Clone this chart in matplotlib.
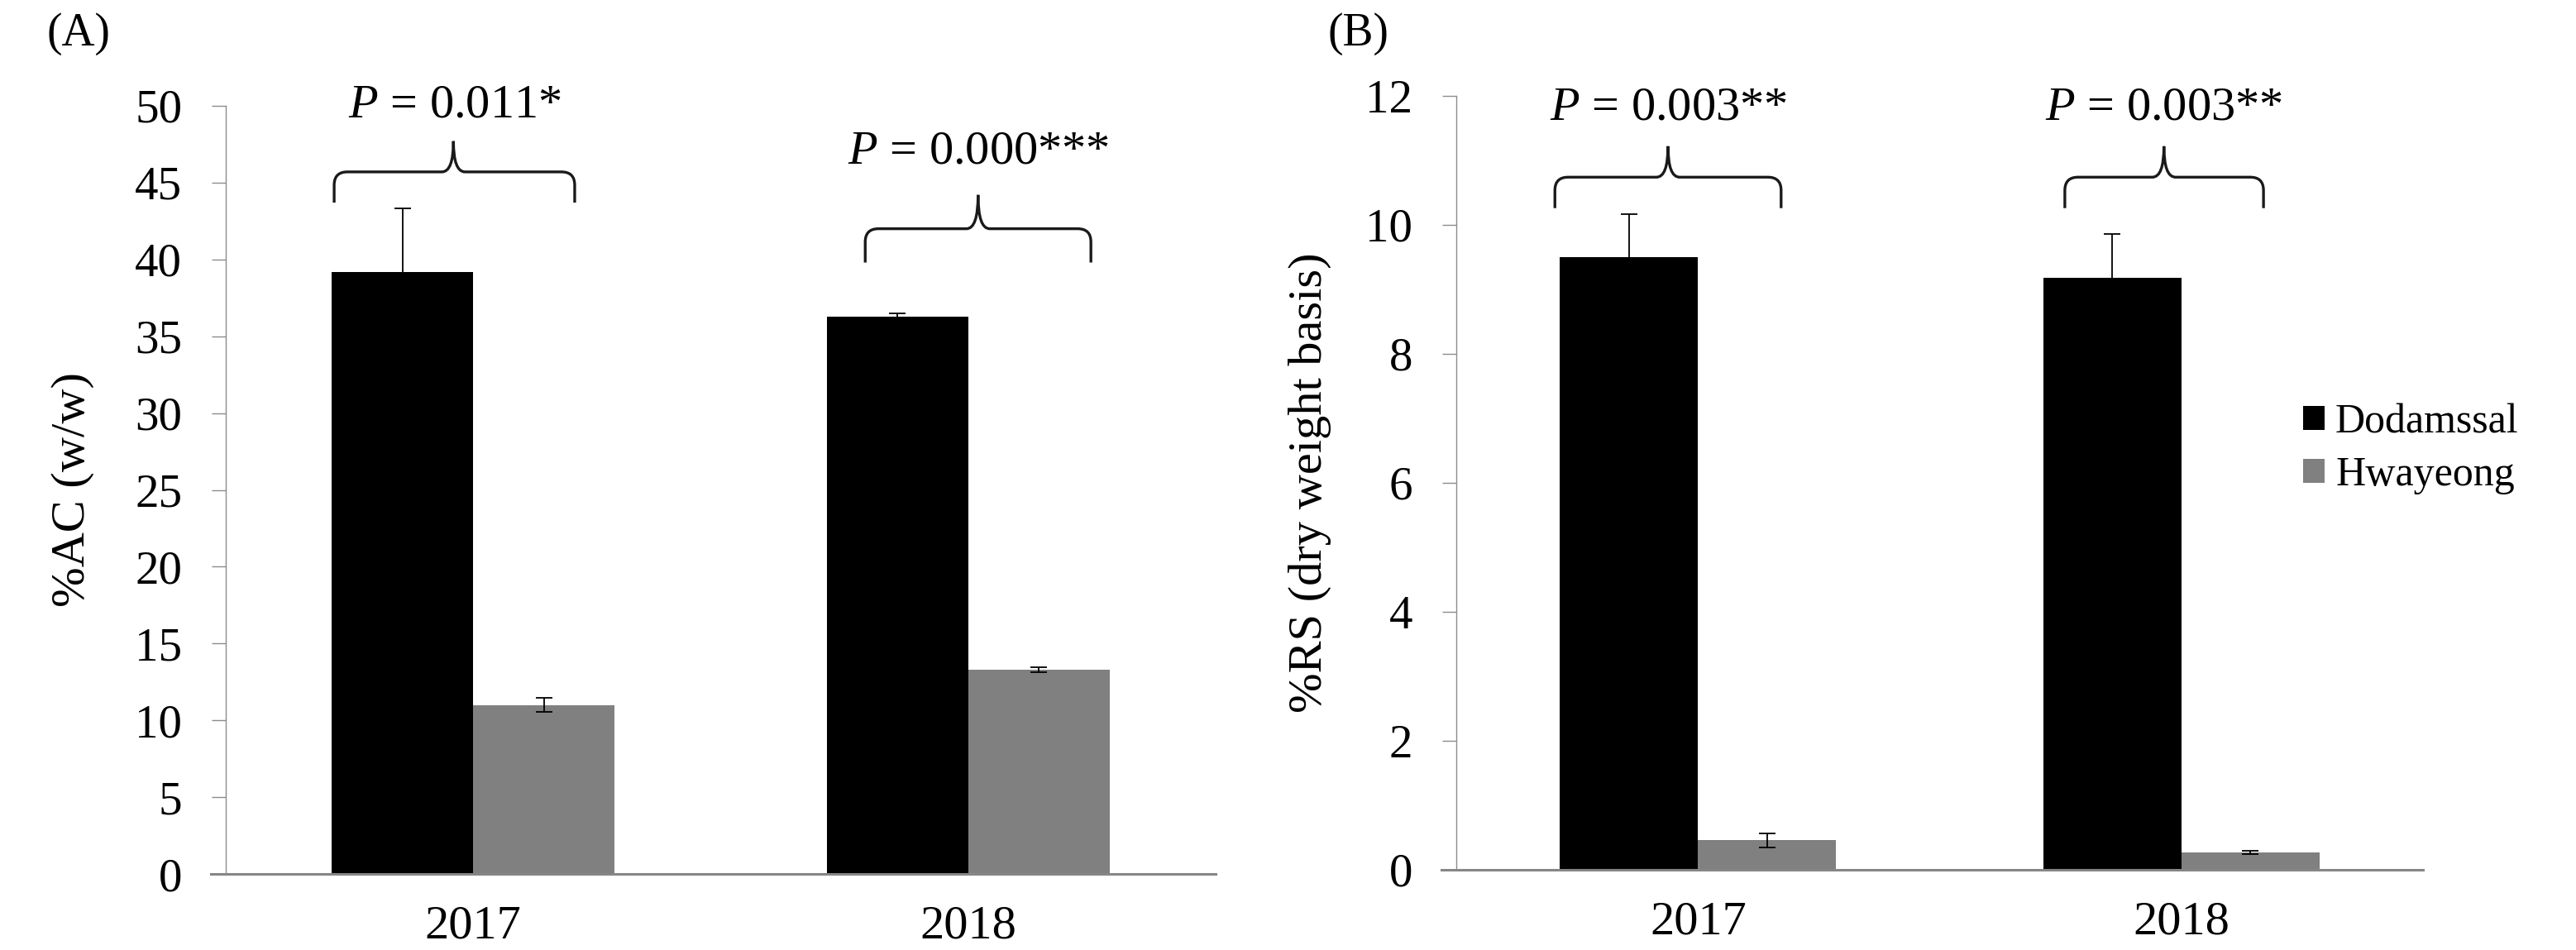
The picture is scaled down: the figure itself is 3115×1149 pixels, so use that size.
import numpy as np
import matplotlib
matplotlib.use('Agg')
import matplotlib.pyplot as plt
from matplotlib.path import Path
from matplotlib.patches import PathPatch
from matplotlib.transforms import IdentityTransform

plt.rcParams['font.family'] = ['Liberation Serif', 'DejaVu Serif']
plt.rcParams['mathtext.fontset'] = 'custom'
plt.rcParams['mathtext.rm'] = 'Liberation Serif'
plt.rcParams['mathtext.it'] = 'Liberation Serif:italic'

# data
years = ['2017', '2018']
cultivars = ['Dodamssal', 'Hwayeong']
colors = ['#000000', '#808080']

ac_mean = {'Dodamssal': [39.2, 36.3], 'Hwayeong': [11.0, 13.3]}
ac_err = {'Dodamssal': [4.1, 0.2], 'Hwayeong': [0.45, 0.15]}
rs_mean = {'Dodamssal': [9.5, 9.18], 'Hwayeong': [0.46, 0.27]}
rs_err = {'Dodamssal': [0.67, 0.68], 'Hwayeong': [0.11, 0.02]}

ac_pvals = ['0.011*', '0.000***']
rs_pvals = ['0.003**', '0.003**']

# brace annotations: (x_left, x_right, x_tip, y_end, y_line, y_tip, y_text)
ac_braces = [(-0.281, 0.205, -0.04, 43.7, 45.7, 47.7, 50.0),
             (0.792, 1.248, 1.02, 39.8, 42.0, 44.2, 47.0)]
rs_braces = [(-0.296, 0.172, -0.062, 10.26, 10.74, 11.22, 11.81),
             (0.759, 1.170, 0.964, 10.26, 10.74, 11.22, 11.81)]

W, H, DPI = 31.15, 11.49, 100
fig = plt.figure(figsize=(W, H), dpi=DPI)

axA = fig.add_axes([273 / 3115, 1 - 1057 / 1149, 1197 / 3115, 929 / 1149])
axB = fig.add_axes([1761 / 3115, 1 - 1052 / 1149, 1169 / 3115, 936 / 1149])

bw = 1 / 3.5
x = np.arange(len(years))


def style_axis(ax, ylim, yticks, ylabel, labx):
    ax.set_xlim(-0.5, 1.5)
    ax.set_ylim(*ylim)
    ax.set_yticks(yticks)
    ax.set_xticks(x)
    ax.set_xticklabels(years)
    for s in ['top', 'right']:
        ax.spines[s].set_visible(False)
    ax.spines['left'].set_color('#8c8c8c')
    ax.spines['left'].set_linewidth(1.0)
    ax.spines['bottom'].set_color('#868686')
    ax.spines['bottom'].set_linewidth(2.2)
    ax.spines['bottom'].set_bounds(-0.53, 1.5)
    ax.spines['bottom'].set_clip_on(False)
    ax.tick_params(axis='y', length=12, width=1.0, color='#8c8c8c',
                   pad=26, labelsize=41)
    ax.tick_params(axis='x', length=0, pad=27, labelsize=42)
    ax.set_ylabel(ylabel, fontsize=42)
    ax.yaxis.set_label_coords(labx, 0.5)


def draw_bars(ax, means, errs):
    for i, c in enumerate(cultivars):
        ax.bar(x - bw / 2 + i * bw, means[c], width=bw, color=colors[i],
               label=c, zorder=2)
        ax.errorbar(x - bw / 2 + i * bw, means[c], yerr=errs[c], fmt='none',
                    ecolor='black', elinewidth=1.3, capsize=7.5,
                    capthick=1.3, zorder=3)


def draw_brace(ax, b, ptxt):
    x0, x1, xm, ye, yh, yt, ytxt = b
    T = ax.transData
    (px0, pye), (px1, pyh), (pxm, pyt) = T.transform([(x0, ye), (x1, yh), (xm, yt)])
    r, s = 16, 14
    verts = [(px0, pye), (px0, pyh - r), (px0, pyh), (px0 + r, pyh),
             (pxm - s, pyh), (pxm, pyh), (pxm, pyt),
             (pxm, pyh), (pxm + s, pyh),
             (px1 - r, pyh), (px1, pyh), (px1, pyh - r), (px1, pye)]
    codes = [Path.MOVETO, Path.LINETO, Path.CURVE3, Path.CURVE3,
             Path.LINETO, Path.CURVE3, Path.CURVE3,
             Path.CURVE3, Path.CURVE3,
             Path.LINETO, Path.CURVE3, Path.CURVE3, Path.LINETO]
    patch = PathPatch(Path(verts, codes), facecolor='none', edgecolor='#1a1a1a',
                      lw=2.4, transform=IdentityTransform(), capstyle='butt')
    fig.add_artist(patch)
    ax.text((x0 + x1) / 2, ytxt, r'$\mathit{P}$ = ' + ptxt,
            ha='center', va='center', fontsize=42, clip_on=False)


style_axis(axA, (0, 50), np.arange(0, 51, 5), '%AC (w/w)', -0.133)
style_axis(axB, (0, 12), np.arange(0, 13, 2), '%RS (dry weight basis)', -0.129)

draw_bars(axA, ac_mean, ac_err)
draw_bars(axB, rs_mean, rs_err)

for b, p in zip(ac_braces, ac_pvals):
    draw_brace(axA, b, p)
for b, p in zip(rs_braces, rs_pvals):
    draw_brace(axB, b, p)

fig.text(95 / 3115, 1 - 41 / 1149, '(A)', fontsize=40, ha='center', va='center')
fig.text(1642 / 3115, 1 - 41 / 1149, '(B)', fontsize=40, ha='center', va='center')

handles, labels = axB.get_legend_handles_labels()
fig.legend(handles, labels, loc='center left',
           bbox_to_anchor=(2785 / 3115, 1 - 543 / 1149), frameon=False,
           fontsize=36, handlelength=0.52, handleheight=0.54,
           handletextpad=0.26, labelspacing=0.35, borderpad=0,
           borderaxespad=0)

fig.savefig('out.png', dpi=DPI)
